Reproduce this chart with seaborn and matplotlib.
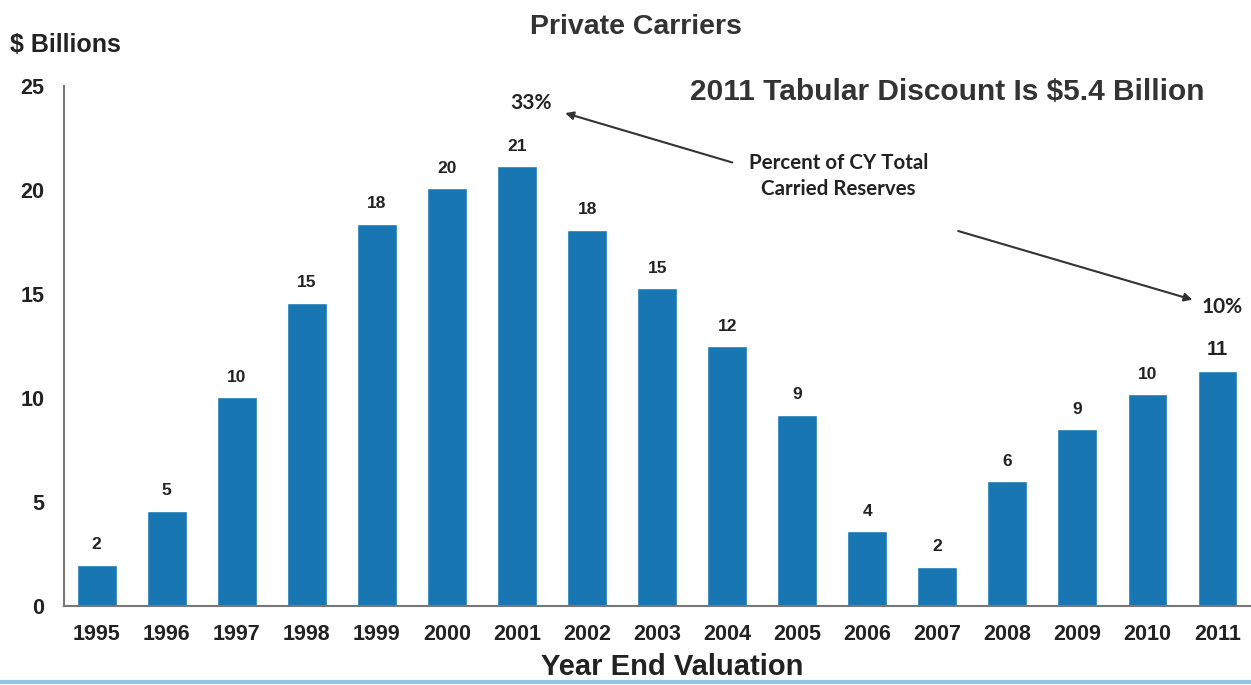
import matplotlib
matplotlib.use("Agg")
import matplotlib.pyplot as plt
import seaborn as sns
import pandas as pd

years = ["1995", "1996", "1997", "1998", "1999", "2000", "2001", "2002", "2003",
         "2004", "2005", "2006", "2007", "2008", "2009", "2010", "2011"]
values = [2.0, 4.6, 10.05, 14.6, 18.4, 20.1, 21.15, 18.1, 15.3,
          12.5, 9.2, 3.6, 1.9, 6.0, 8.5, 10.2, 11.3]
labels = ["2", "5", "10", "15", "18", "20", "21", "18", "15",
          "12", "9", "4", "2", "6", "9", "10", "11"]
yticks = [0, 5, 10, 15, 20, 25]

sns.set_theme(style="white")
plt.rcParams["font.family"] = ["Liberation Sans", "DejaVu Sans"]

df = pd.DataFrame({"year": years, "value": values})

fig = plt.figure(figsize=(12.51, 6.85), dpi=100)
ax = fig.add_axes([0.051, 0.115, 0.948, 0.759])

sns.barplot(data=df, x="year", y="value", color="#1877b3", saturation=1,
            width=0.57, ax=ax)

ax.set_ylim(0, 25)
ax.set_xlim(-0.47, 16.46)
ax.set_yticks(yticks)
ax.set_yticklabels([str(t) for t in yticks], fontsize=15.5, fontweight="bold",
                   color="#222222")
ax.tick_params(axis="y", length=0, pad=14)
ax.tick_params(axis="x", length=0, pad=13, labelsize=15.5)
for t in ax.get_xticklabels():
    t.set_fontweight("bold")
    t.set_color("#222222")

for s in ["top", "right"]:
    ax.spines[s].set_visible(False)
for s in ["left", "bottom"]:
    ax.spines[s].set_color("#777777")
    ax.spines[s].set_linewidth(1.5)

ax.set_xlabel("")
ax.set_ylabel("")

for i, (v, lab) in enumerate(zip(values, labels)):
    fs = 14.5 if i == len(values) - 1 else 12.5
    ax.annotate(lab, (i, v), xytext=(0, 9), textcoords="offset points",
                ha="center", va="bottom", fontsize=fs, fontweight="bold",
                color="#222222")

fig.text(0.508, 0.96, "Private Carriers", ha="center", va="center",
         fontsize=20.5, fontweight="bold", color="#333333")
fig.text(0.008, 0.934, "$ Billions", ha="left", va="center",
         fontsize=18, fontweight="bold", color="#222222")
fig.text(0.757, 0.866, "2011 Tabular Discount Is $5.4 Billion", ha="center",
         va="center", fontsize=21.5, fontweight="bold", color="#333333")
fig.text(0.537, 0.026, "Year End Valuation", ha="center", va="center",
         fontsize=21, fontweight="bold", color="#222222")

pfont = ["Lato", "DejaVu Sans"]
ax.text(6.2, 24.2, "33%", ha="center", va="center", fontsize=15,
        fontweight="bold", color="#222222", family=pfont)
ax.text(16.07, 14.4, "10%", ha="center", va="center", fontsize=15,
        fontweight="bold", color="#222222", family=pfont)
ax.text(10.59, 20.7, "Percent of CY Total\nCarried Reserves", ha="center",
        va="center", fontsize=14.8, fontweight="bold", color="#222222",
        linespacing=1.35, family=pfont)

arrow = dict(arrowstyle="-|>", color="#333333", lw=1.5, mutation_scale=12)
ax.annotate("", xy=(6.65, 23.75), xytext=(9.11, 21.3), arrowprops=arrow)
ax.annotate("", xy=(15.68, 14.7), xytext=(12.26, 18.08), arrowprops=arrow)

fig.add_artist(plt.Line2D([0, 1], [0.004, 0.004], transform=fig.transFigure,
                          color="#8fc6e8", lw=3))

fig.savefig("out.png", dpi=100)
